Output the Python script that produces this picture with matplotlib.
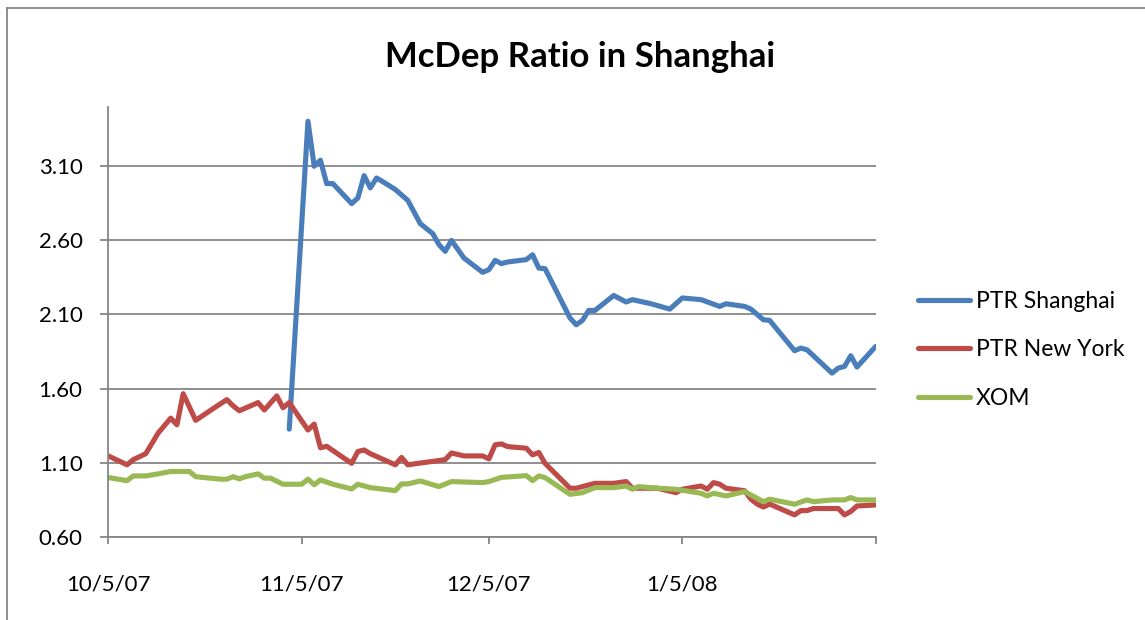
import matplotlib
matplotlib.use("Agg")
import matplotlib.pyplot as plt
from matplotlib.lines import Line2D
import pandas as pd

BLUE = "#4A7EBB"; RED = "#BE4B48"; GREEN = "#98B954"; GRID = "#868686"

# PTR Shanghai
sh_dates = ["2007-11-03", "2007-11-06", "2007-11-07", "2007-11-08", "2007-11-09", "2007-11-10",
            "2007-11-13", "2007-11-14", "2007-11-15", "2007-11-16", "2007-11-17", "2007-11-19",
            "2007-11-20", "2007-11-22", "2007-11-24", "2007-11-26", "2007-11-27", "2007-11-28",
            "2007-11-29", "2007-12-01", "2007-12-04", "2007-12-05", "2007-12-06", "2007-12-07",
            "2007-12-08", "2007-12-11", "2007-12-12", "2007-12-13", "2007-12-14", "2007-12-18",
            "2007-12-19", "2007-12-20", "2007-12-21", "2007-12-22", "2007-12-25", "2007-12-27",
            "2007-12-28", "2007-12-31", "2008-01-03", "2008-01-05", "2008-01-08", "2008-01-11",
            "2008-01-12", "2008-01-15", "2008-01-16", "2008-01-18", "2008-01-19", "2008-01-23",
            "2008-01-24", "2008-01-25", "2008-01-29", "2008-01-30", "2008-01-31", "2008-02-01",
            "2008-02-02", "2008-02-05"]
sh_vals = [1.326, 3.404, 3.10, 3.141, 2.983, 2.983, 2.848, 2.886, 3.037, 2.954, 3.021, 2.97,
           2.943, 2.87, 2.713, 2.645, 2.571, 2.526, 2.60, 2.481, 2.384, 2.402, 2.465, 2.443,
           2.454, 2.47, 2.503, 2.413, 2.409, 2.076, 2.03, 2.06, 2.127, 2.127, 2.228, 2.184,
           2.20, 2.172, 2.136, 2.211, 2.20, 2.154, 2.172, 2.154, 2.136, 2.064, 2.06, 1.855,
           1.873, 1.861, 1.704, 1.738, 1.749, 1.821, 1.745, 1.884]

# PTR New York
ny_dates = ["2007-10-05", "2007-10-08", "2007-10-09", "2007-10-11", "2007-10-13", "2007-10-15",
            "2007-10-16", "2007-10-17", "2007-10-19", "2007-10-22", "2007-10-24", "2007-10-25",
            "2007-10-26", "2007-10-29", "2007-10-30", "2007-11-01", "2007-11-02", "2007-11-03",
            "2007-11-06", "2007-11-07", "2007-11-08", "2007-11-09", "2007-11-13", "2007-11-14",
            "2007-11-15", "2007-11-16", "2007-11-20", "2007-11-21", "2007-11-22", "2007-11-28",
            "2007-11-29", "2007-12-01", "2007-12-04", "2007-12-05", "2007-12-06", "2007-12-07",
            "2007-12-08", "2007-12-11", "2007-12-12", "2007-12-13", "2007-12-14", "2007-12-18",
            "2007-12-19", "2007-12-22", "2007-12-25", "2007-12-27", "2007-12-28", "2008-01-01",
            "2008-01-04", "2008-01-05", "2008-01-08", "2008-01-09", "2008-01-10", "2008-01-11",
            "2008-01-12", "2008-01-15", "2008-01-16", "2008-01-17", "2008-01-18", "2008-01-19",
            "2008-01-23", "2008-01-24", "2008-01-25", "2008-01-26", "2008-01-30", "2008-01-31",
            "2008-02-01", "2008-02-02", "2008-02-05"]
ny_vals = [1.145, 1.085, 1.12, 1.16, 1.30, 1.40, 1.355, 1.565, 1.385, 1.47, 1.525, 1.483,
           1.45, 1.505, 1.455, 1.55, 1.47, 1.505, 1.32, 1.36, 1.20, 1.21, 1.095, 1.175,
           1.185, 1.16, 1.085, 1.135, 1.085, 1.12, 1.165, 1.145, 1.145, 1.125, 1.22, 1.226,
           1.208, 1.197, 1.152, 1.168, 1.095, 0.927, 0.927, 0.96, 0.96, 0.972, 0.927, 0.927,
           0.897, 0.92, 0.942, 0.92, 0.965, 0.954, 0.927, 0.91, 0.853, 0.82, 0.80, 0.82,
           0.747, 0.776, 0.776, 0.79, 0.79, 0.747, 0.77, 0.807, 0.814]

# XOM
xom_dates = ["2007-10-05", "2007-10-08", "2007-10-09", "2007-10-11", "2007-10-13", "2007-10-15",
             "2007-10-18", "2007-10-19", "2007-10-23", "2007-10-24", "2007-10-25", "2007-10-26",
             "2007-10-27", "2007-10-29", "2007-10-30", "2007-10-31", "2007-11-02", "2007-11-05",
             "2007-11-06", "2007-11-07", "2007-11-08", "2007-11-10", "2007-11-13", "2007-11-14",
             "2007-11-16", "2007-11-20", "2007-11-21", "2007-11-22", "2007-11-24", "2007-11-27",
             "2007-11-29", "2007-12-04", "2007-12-05", "2007-12-07", "2007-12-11", "2007-12-12",
             "2007-12-13", "2007-12-14", "2007-12-18", "2007-12-20", "2007-12-22", "2007-12-25",
             "2007-12-27", "2007-12-28", "2007-12-29", "2008-01-01", "2008-01-04", "2008-01-08",
             "2008-01-09", "2008-01-10", "2008-01-12", "2008-01-15", "2008-01-18", "2008-01-19",
             "2008-01-23", "2008-01-25", "2008-01-26", "2008-01-29", "2008-01-31", "2008-02-01",
             "2008-02-02", "2008-02-05"]
xom_vals = [0.999, 0.978, 1.01, 1.01, 1.024, 1.04, 1.04, 1.005, 0.988, 0.988, 1.005, 0.99,
            1.005, 1.024, 0.995, 0.995, 0.954, 0.954, 0.988, 0.95, 0.983, 0.954, 0.922, 0.954,
            0.931, 0.911, 0.956, 0.956, 0.976, 0.938, 0.972, 0.965, 0.972, 1.00, 1.012, 0.978,
            1.01, 0.999, 0.886, 0.897, 0.931, 0.931, 0.942, 0.92, 0.938, 0.927, 0.92, 0.893,
            0.875, 0.893, 0.875, 0.904, 0.836, 0.853, 0.819, 0.848, 0.836, 0.848, 0.848, 0.864,
            0.848, 0.848]

tick_dates = ["2007-10-05", "2007-11-05", "2007-12-05", "2008-01-05", "2008-02-05"]
tick_labels = ["10/5/07", "11/5/07", "12/5/07", "1/5/08", ""]
y_ticks = [0.60, 1.10, 1.60, 2.10, 2.60, 3.10]

plt.rcParams["font.family"] = ["Lato", "DejaVu Sans"]

fig = plt.figure(figsize=(11.45, 6.2), dpi=100)
ax = fig.add_axes([0.0946, 0.1344, 0.6702, 0.693])

for d, v, c, lab in [(sh_dates, sh_vals, BLUE, "PTR Shanghai"),
                     (ny_dates, ny_vals, RED, "PTR New York"),
                     (xom_dates, xom_vals, GREEN, "XOM")]:
    ax.plot(pd.to_datetime(d), v, color=c, lw=3.7, label=lab,
            solid_joinstyle="round", solid_capstyle="round")

ax.set_xlim(pd.Timestamp(tick_dates[0]), pd.Timestamp(tick_dates[-1]))
ax.set_ylim(0.60, 3.50)
ax.set_yticks(y_ticks)
ax.set_yticklabels([f"{v:.2f}" for v in y_ticks])
ax.set_xticks(pd.to_datetime(tick_dates))
ax.set_xticklabels(tick_labels)
ax.grid(axis="y", color=GRID, lw=1.3)
ax.set_axisbelow(True)
for s in ["top", "right"]:
    ax.spines[s].set_visible(False)
for s in ["left", "bottom"]:
    ax.spines[s].set_color(GRID)
    ax.spines[s].set_linewidth(1.3)
ax.tick_params(axis="y", length=5.5, width=1.3, color=GRID, pad=13, labelsize=16)
ax.tick_params(axis="x", length=5, width=1.3, color=GRID, pad=22, labelsize=16)

fig.text(0.507, 0.908, "McDep Ratio in Shanghai", ha="center", va="center",
         fontsize=25, fontweight="bold")

fig.legend(loc="center left", bbox_to_anchor=(0.792, 0.436), frameon=False, fontsize=16.5,
           handlelength=2.25, handletextpad=0.25, labelspacing=1.2, borderpad=0)

# chart-area frame (top and left edges visible in crop)
fig.add_artist(Line2D([0.006, 0.006], [0, 0.987], color=GRID, lw=1.3))
fig.add_artist(Line2D([0.006, 1], [0.987, 0.987], color=GRID, lw=1.3))

fig.savefig("out.png", dpi=100, facecolor="white")
